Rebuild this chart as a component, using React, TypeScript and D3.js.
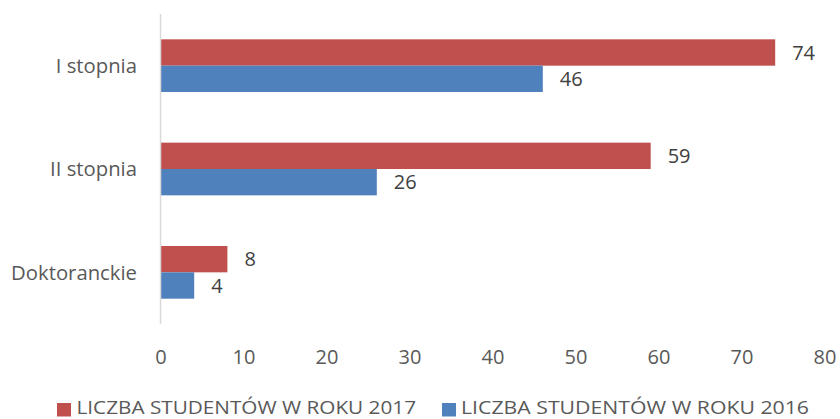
import React from "react";
import * as d3 from "d3";

const categories = ["I stopnia", "II stopnia", "Doktoranckie"];
const seriesNames = ["LICZBA STUDENTÓW W ROKU 2017", "LICZBA STUDENTÓW  W ROKU 2016"];
const values2017 = [74, 59, 8];
const values2016 = [46, 26, 4];
const xTicks = [0, 10, 20, 30, 40, 50, 60, 70, 80];
const colors = ["#C0504D", "#4F81BD"];

const W = 840;
const H = 419;
const FONT = "'Open Sans', sans-serif";
const TEXT = "#595959";

export default function App() {
  const x = d3.scaleLinear().domain([0, 80]).range([161, 825]);
  const y = d3.scaleBand<string>().domain(categories).range([14, 324]).paddingInner(0.49).paddingOuter(0.245);
  const sub = d3.scaleBand<number>().domain([0, 1]).range([0, y.bandwidth()]);
  const series = [values2017, values2016];

  const legendItems = [
    { sx: 57, tx: 76.5, tl: 339.5 },
    { sx: 442, tx: 461, tl: 348 },
  ];

  return (
    <svg width={W} height={H} style={{ position: "absolute", left: 0, top: 0, display: "block" }} fontFamily={FONT}>
      <rect width={W} height={H} fill="#fff" />
      {categories.map((c, i) =>
        series.map((vals, s) => (
          <rect
            key={c + s}
            x={x(0)}
            y={(y(c) as number) + (sub(s) as number)}
            width={x(vals[i]) - x(0)}
            height={sub.bandwidth()}
            fill={colors[s]}
          />
        ))
      )}
      <line x1={160.5} x2={160.5} y1={14} y2={324} stroke="#D9D9D9" strokeWidth={1.5} />
      {categories.map((c, i) =>
        series.map((vals, s) => (
          <text
            key={"l" + c + s}
            x={x(vals[i]) + 17}
            y={(y(c) as number) + (sub(s) as number) + sub.bandwidth() / 2}
            dy="0.36em"
            fontSize={20}
            fill="#404040"
          >
            {vals[i]}
          </text>
        ))
      )}
      {categories.map((c) => (
        <text
          key={"c" + c}
          x={137}
          y={(y(c) as number) + y.bandwidth() / 2}
          dy="0.36em"
          textAnchor="end"
          fontSize={20.3}
          fill={TEXT}
        >
          {c}
        </text>
      ))}
      {xTicks.map((t) => (
        <text key={"t" + t} x={x(t)} y={364} textAnchor="middle" fontSize={20} fill={TEXT}>
          {t}
        </text>
      ))}
      {seriesNames.map((n, i) => (
        <g key={"lg" + i}>
          <rect x={legendItems[i].sx} y={403} width={14} height={13.5} fill={colors[i]} />
          <text
            x={legendItems[i].tx}
            y={414}
            fontSize={18}
            fill={TEXT}
            textLength={legendItems[i].tl}
            lengthAdjust="spacingAndGlyphs"
          >
            {n}
          </text>
        </g>
      ))}
    </svg>
  );
}
